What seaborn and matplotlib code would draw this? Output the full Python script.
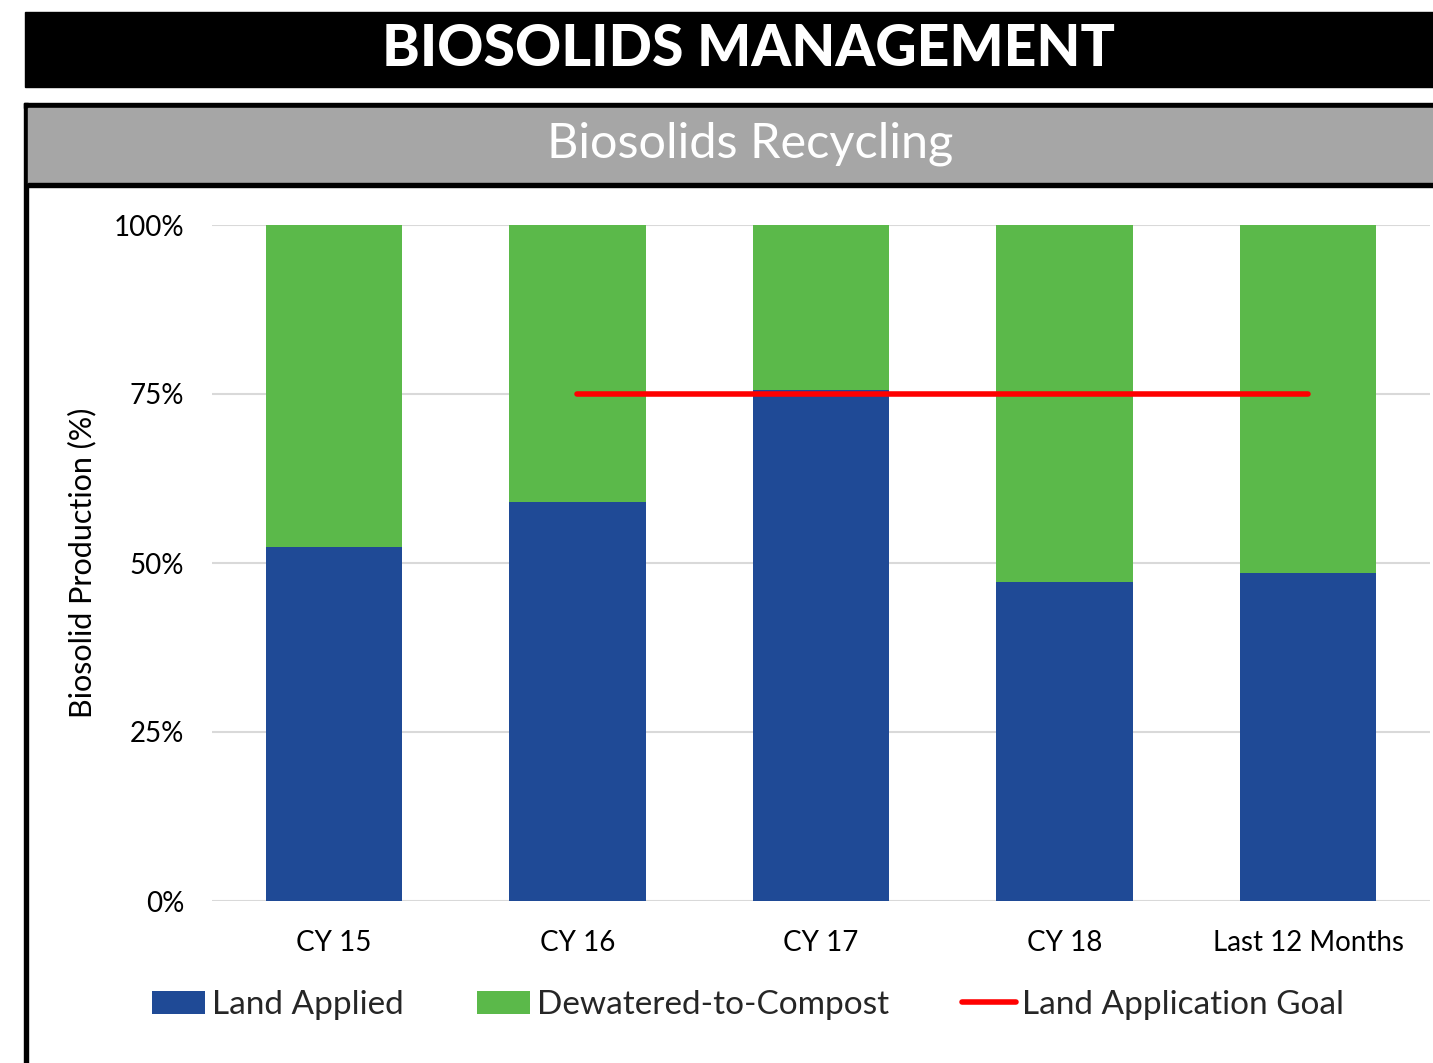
import numpy as np
import pandas as pd
import matplotlib
matplotlib.use("Agg")
import matplotlib.pyplot as plt
from matplotlib.patches import Rectangle, Patch
from matplotlib.lines import Line2D
import seaborn as sns

# Data (percent of biosolid production)
categories = ["CY 15", "CY 16", "CY 17", "CY 18", "Last 12 Months"]
land_applied = [52.4, 59.0, 75.6, 47.2, 48.5]
dewatered_to_compost = [47.6, 41.0, 24.4, 52.8, 51.5]
land_goal = [np.nan, 75, 75, 75, 75]

BLUE = "#1F4A96"
GREEN = "#5BB94A"
RED = "#FF0000"

df = pd.DataFrame({
    "category": categories,
    "land": land_applied,
    "compost": dewatered_to_compost,
    "goal": land_goal,
})
df["total"] = df["land"] + df["compost"]
df["pos"] = np.arange(len(df))

sns.set_theme(style="white")
plt.rcParams["font.family"] = ["Lato", "DejaVu Sans"]

W, H = 1433, 1063
fig = plt.figure(figsize=(W / 100, H / 100), dpi=100)


def fx(px):
    return px / W


def fy(py):
    return 1 - py / H


# ---------------- header decorations ----------------
fig.patches.append(Rectangle((fx(25), fy(87)), fx(1433 - 25), (87 - 12) / H,
                             transform=fig.transFigure, color="black", zorder=0))
fig.text(fx(748), fy(49), "BIOSOLIDS MANAGEMENT", color="white", fontsize=41,
         fontweight="black", ha="center", va="center")

# frame top + left borders
fig.patches.append(Rectangle((fx(24), fy(108)), fx(1433 - 24), 5 / H,
                             transform=fig.transFigure, color="black", zorder=0))
fig.patches.append(Rectangle((fx(24), 0), fx(4), fy(103),
                             transform=fig.transFigure, color="black", zorder=0))
# grey subtitle band
fig.patches.append(Rectangle((fx(28), fy(183)), fx(1433 - 28), 75 / H,
                             transform=fig.transFigure, color="#A6A6A6", zorder=0))
fig.patches.append(Rectangle((fx(28), fy(187)), fx(1433 - 28), 4 / H,
                             transform=fig.transFigure, color="black", zorder=0))
fig.text(fx(750), fy(144), "Biosolids Recycling", color="white", fontsize=35,
         ha="center", va="center")

# ---------------- chart ----------------
ax = fig.add_axes([fx(212), fy(901), fx(1430 - 212), 676 / H])

sns.barplot(data=df, x="pos", y="total", color=GREEN, width=0.56,
            saturation=1, ax=ax, native_scale=True, linewidth=0, zorder=2)
sns.barplot(data=df, x="pos", y="land", color=BLUE, width=0.56,
            saturation=1, ax=ax, native_scale=True, linewidth=0, zorder=3)
sns.lineplot(data=df, x="pos", y="goal", color=RED, linewidth=4,
             ax=ax, zorder=4, solid_capstyle="round")

ax.set_xlim(-0.5, len(categories) - 0.5)
ax.set_ylim(0, 100)
ax.set_yticks([0, 25, 50, 75, 100])
ax.set_yticklabels(["0%", "25%", "50%", "75%", "100%"])
ax.set_xticks(df["pos"])
ax.set_xticklabels(categories)
ax.yaxis.grid(True, color="#D9D9D9", linewidth=1.5, zorder=0)
ax.set_axisbelow(True)
for s in ax.spines.values():
    s.set_visible(False)
ax.tick_params(axis="y", length=0, pad=20, labelsize=20, labelcolor="black")
ax.tick_params(axis="x", length=0, pad=21, labelsize=20, labelcolor="black")
ax.set_xlabel("")
ax.set_ylabel("Biosolid Production (%)", fontsize=22, color="black", labelpad=12)

handles = [
    Patch(facecolor=BLUE, edgecolor="none", label="Land Applied"),
    Patch(facecolor=GREEN, edgecolor="none", label="Dewatered-to-Compost"),
    Line2D([0], [0], color=RED, linewidth=4, label="Land Application Goal"),
]
fig.legend(handles=handles, loc="center", bbox_to_anchor=(fx(748), fy(1005)),
           ncol=3, frameon=False, fontsize=24, handlelength=1.6,
           handleheight=0.7, handletextpad=0.2, columnspacing=2.2)

fig.savefig("out.png", dpi=100)
